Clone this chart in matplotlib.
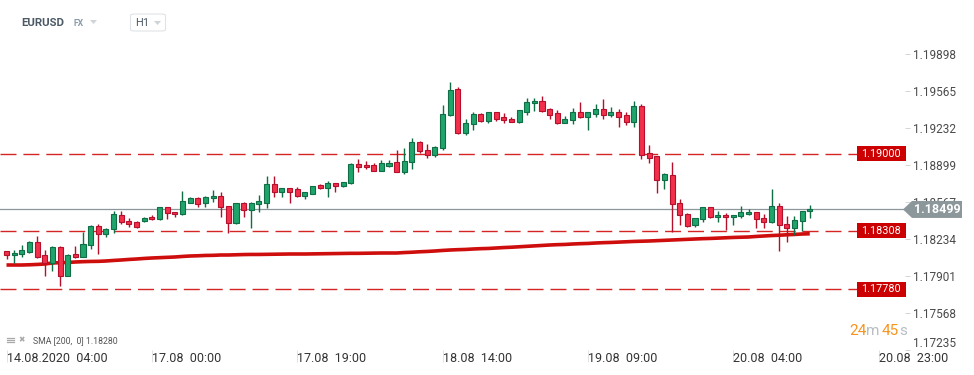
import matplotlib
matplotlib.use("Agg")
import matplotlib.pyplot as plt
import matplotlib.transforms as mtransforms
from matplotlib.patches import Rectangle, Polygon, FancyBboxPatch
import numpy as np

plt.rcParams['font.family'] = ['Roboto', 'DejaVu Sans']

# ---------------- data ----------------
symbol = "EURUSD"
market = "FX"
interval = "H1"
x_tick_pos = [0, 19, 38, 57, 76, 95, 114]
x_tick_labels = ["14.08.2020  04:00", "17.08  00:00", "17.08  19:00", "18.08  14:00",
                 "19.08  09:00", "20.08  04:00", "20.08  23:00"]
y_ticks = [1.17235, 1.17568, 1.17901, 1.18234, 1.18567, 1.18899, 1.19232, 1.19565, 1.19898]
levels = [1.19000, 1.18308, 1.17780]
current_price = 1.18499
sma_label = "SMA [200,  0] 1.18280"
countdown = ["24", "m", "45", "s"]

opens = [1.18122, 1.18086, 1.18095, 1.18116, 1.18206, 1.18086, 1.18017, 1.18158, 1.17903, 1.18095,
         1.18074, 1.18176, 1.18347, 1.18275, 1.18320, 1.18449, 1.18395, 1.18383, 1.18398, 1.18428,
         1.18410, 1.18518, 1.18476, 1.18455, 1.18560, 1.18599, 1.18554, 1.18599, 1.18620, 1.18527,
         1.18374, 1.18554, 1.18494, 1.18551, 1.18560, 1.18728, 1.18656, 1.18689, 1.18680, 1.18623,
         1.18641, 1.18716, 1.18689, 1.18734, 1.18713, 1.18734, 1.18905, 1.18896, 1.18896, 1.18848,
         1.18893, 1.18923, 1.18839, 1.18923, 1.19106, 1.19031, 1.18992, 1.19055, 1.19352, 1.19580,
         1.19190, 1.19265, 1.19355, 1.19298, 1.19373, 1.19328, 1.19310, 1.19283, 1.19379, 1.19454,
         1.19472, 1.19400, 1.19364, 1.19280, 1.19301, 1.19373, 1.19334, 1.19361, 1.19400, 1.19352,
         1.19373, 1.19346, 1.19289, 1.19427, 1.19004, 1.18977, 1.18761, 1.18806, 1.18554, 1.18455,
         1.18356, 1.18410, 1.18518, 1.18428, 1.18446, 1.18428, 1.18437, 1.18455, 1.18473, 1.18419,
         1.18383, 1.18527, 1.18365, 1.18329, 1.18392, 1.18482]
highs = [1.18125, 1.18131, 1.18176, 1.18215, 1.18260, 1.18134, 1.18167, 1.18167, 1.18095, 1.18170,
         1.18299, 1.18356, 1.18368, 1.18332, 1.18488, 1.18488, 1.18419, 1.18391, 1.18428, 1.18449,
         1.18525, 1.18525, 1.18480, 1.18665, 1.18607, 1.18607, 1.18620, 1.18674, 1.18656, 1.18534,
         1.18561, 1.18563, 1.18563, 1.18629, 1.18800, 1.18800, 1.18696, 1.18696, 1.18701, 1.18660,
         1.18714, 1.18728, 1.18755, 1.18741, 1.18750, 1.18913, 1.18949, 1.18935, 1.18914, 1.18944,
         1.18944, 1.19034, 1.19049, 1.19139, 1.19115, 1.19088, 1.19070, 1.19439, 1.19643, 1.19598,
         1.19310, 1.19373, 1.19364, 1.19380, 1.19380, 1.19364, 1.19328, 1.19398, 1.19499, 1.19499,
         1.19520, 1.19408, 1.19391, 1.19337, 1.19409, 1.19463, 1.19380, 1.19445, 1.19490, 1.19418,
         1.19400, 1.19373, 1.19472, 1.19445, 1.19079, 1.18984, 1.18824, 1.18926, 1.18590, 1.18464,
         1.18426, 1.18525, 1.18525, 1.18482, 1.18464, 1.18453, 1.18527, 1.18500, 1.18480, 1.18455,
         1.18683, 1.18554, 1.18437, 1.18437, 1.18489, 1.18536]
lows = [1.18050, 1.18020, 1.18074, 1.18110, 1.18065, 1.17900, 1.17948, 1.17813, 1.17896, 1.18065,
        1.18071, 1.18143, 1.18101, 1.18248, 1.18290, 1.18368, 1.18344, 1.18335, 1.18386, 1.18404,
        1.18404, 1.18410, 1.18428, 1.18449, 1.18554, 1.18524, 1.18518, 1.18569, 1.18434, 1.18284,
        1.18365, 1.18428, 1.18335, 1.18479, 1.18515, 1.18614, 1.18614, 1.18560, 1.18615, 1.18596,
        1.18634, 1.18683, 1.18614, 1.18659, 1.18705, 1.18728, 1.18832, 1.18860, 1.18841, 1.18841,
        1.18884, 1.18832, 1.18821, 1.18860, 1.19004, 1.18965, 1.18974, 1.19034, 1.19343, 1.19181,
        1.19172, 1.19214, 1.19289, 1.19280, 1.19299, 1.19280, 1.19282, 1.19277, 1.19352, 1.19388,
        1.19379, 1.19316, 1.19271, 1.19273, 1.19271, 1.19326, 1.19217, 1.19334, 1.19316, 1.19328,
        1.19244, 1.19262, 1.19244, 1.18957, 1.18914, 1.18644, 1.18680, 1.18299, 1.18362, 1.18341,
        1.18344, 1.18383, 1.18422, 1.18383, 1.18314, 1.18356, 1.18419, 1.18449, 1.18329, 1.18329,
        1.18374, 1.18122, 1.18209, 1.18272, 1.18302, 1.18419]
closes = [1.18086, 1.18107, 1.18131, 1.18206, 1.18074, 1.18017, 1.18158, 1.17903, 1.18086, 1.18074,
          1.18188, 1.18347, 1.18275, 1.18320, 1.18455, 1.18383, 1.18371, 1.18344, 1.18419, 1.18410,
          1.18518, 1.18464, 1.18455, 1.18572, 1.18599, 1.18551, 1.18608, 1.18620, 1.18518, 1.18374,
          1.18554, 1.18494, 1.18554, 1.18572, 1.18728, 1.18656, 1.18689, 1.18656, 1.18623, 1.18656,
          1.18707, 1.18689, 1.18734, 1.18710, 1.18743, 1.18905, 1.18884, 1.18878, 1.18848, 1.18914,
          1.18914, 1.18839, 1.18935, 1.19106, 1.19022, 1.18992, 1.19058, 1.19355, 1.19571, 1.19190,
          1.19274, 1.19355, 1.19298, 1.19373, 1.19316, 1.19301, 1.19289, 1.19391, 1.19463, 1.19472,
          1.19388, 1.19352, 1.19280, 1.19310, 1.19373, 1.19334, 1.19373, 1.19400, 1.19352, 1.19373,
          1.19334, 1.19289, 1.19427, 1.18992, 1.18965, 1.18761, 1.18815, 1.18545, 1.18446, 1.18347,
          1.18419, 1.18518, 1.18428, 1.18449, 1.18428, 1.18446, 1.18473, 1.18473, 1.18410, 1.18383,
          1.18527, 1.18356, 1.18329, 1.18401, 1.18482, 1.18499]
sma200 = [1.17999, 1.17999, 1.17999, 1.18001, 1.18004, 1.18008, 1.18017, 1.18020, 1.18022, 1.18026,
          1.18029, 1.18031, 1.18032, 1.18035, 1.18040, 1.18044, 1.18049, 1.18053, 1.18058, 1.18062,
          1.18065, 1.18068, 1.18071, 1.18076, 1.18080, 1.18082, 1.18085, 1.18086, 1.18089, 1.18089,
          1.18091, 1.18093, 1.18094, 1.18094, 1.18095, 1.18096, 1.18097, 1.18098, 1.18098, 1.18098,
          1.18099, 1.18100, 1.18101, 1.18102, 1.18103, 1.18104, 1.18104, 1.18105, 1.18106, 1.18107,
          1.18107, 1.18107, 1.18111, 1.18114, 1.18118, 1.18121, 1.18125, 1.18130, 1.18134, 1.18137,
          1.18139, 1.18143, 1.18146, 1.18148, 1.18152, 1.18156, 1.18159, 1.18163, 1.18167, 1.18171,
          1.18175, 1.18179, 1.18182, 1.18184, 1.18188, 1.18191, 1.18193, 1.18197, 1.18200, 1.18202,
          1.18205, 1.18208, 1.18211, 1.18213, 1.18215, 1.18218, 1.18221, 1.18224, 1.18227, 1.18230,
          1.18233, 1.18236, 1.18238, 1.18241, 1.18244, 1.18247, 1.18249, 1.18251, 1.18256, 1.18260,
          1.18264, 1.18267, 1.18271, 1.18274, 1.18278, 1.18280]

# ---------------- figure ----------------
W, H = 974, 375
fig = plt.figure(figsize=(W / 100, H / 100), dpi=100)
fig.patch.set_facecolor('white')
ax = fig.add_axes([0, 25 / H, 905 / W, 350 / H])
ax.set_facecolor('white')
for s in ax.spines.values():
    s.set_visible(False)

ax.set_xlim(-0.85, 117.45)
ax.set_ylim(1.17234, 1.20384)

idx = np.arange(len(opens))
o = np.array(opens); c = np.array(closes); h = np.array(highs); l = np.array(lows)
up = c >= o
fill = np.where(up, '#1fa46b', '#f2304b')
edge = np.where(up, '#0f6e45', '#b50f2b')

# SMA line (beneath candles)
ax.plot(idx, sma200, color='#cc0000', lw=2.6, solid_capstyle='butt', zorder=2, alpha=0.95)

# reference levels
for v in levels:
    ax.plot([-0.85, 111.2], [v, v], color='#d42424', lw=1.0, dashes=(11.5, 5), zorder=1.5)

# current price line
ax.axhline(current_price, color='#8b979b', lw=0.9, zorder=1.6)

# candles
ax.vlines(idx, l, h, colors=edge, lw=1.0, zorder=3)
body_bot = np.minimum(o, c)
body_h = np.maximum(np.abs(c - o), 0.00003)
ax.bar(idx, body_h, bottom=body_bot, width=0.66, color=fill, edgecolor=edge, lw=0.8, zorder=4)

# axes ticks
ax.yaxis.tick_right()
ax.set_yticks(y_ticks)
ax.set_yticklabels([f"{v:.5f}" for v in y_ticks])
ax.tick_params(axis='y', length=3.6, width=0.7, color='#d5d5d5', pad=2.2,
               labelsize=8.5, labelcolor='#4a4a4a')
ytl = ax.get_yticklabels()
ytl[0].set_va('bottom')

ax.set_xticks(x_tick_pos)
ax.set_xticklabels(x_tick_labels, ha='left')
ax.tick_params(axis='x', length=8.6, width=0.7, color='#e2e2e2', pad=-7.0,
               labelsize=9, labelcolor='#333333')

# level boxes
bt = mtransforms.blended_transform_factory(fig.transFigure, ax.transData)
px = 0.00009  # price per pixel
for v in levels:
    ax.add_patch(Rectangle((857 / W, v - 7.5 * px), 49 / W, 15 * px, transform=bt,
                           facecolor='#cc0000', edgecolor='none', clip_on=False, zorder=6))
    ax.text(881 / W, v, f"{v:.5f}", transform=bt, color='white', fontsize=7.8,
            ha='center', va='center', zorder=7, clip_on=False)

# current price tag
tag = Polygon([(903 / W, current_price), (912 / W, current_price + 8.5 * px),
               (962 / W, current_price + 8.5 * px), (962 / W, current_price - 8.5 * px),
               (912 / W, current_price - 8.5 * px)], closed=True, transform=bt,
              facecolor='#8b979b', edgecolor='none', clip_on=False, zorder=6)
ax.add_patch(tag)
ax.text(937 / W, current_price, f"{current_price:.5f}", transform=bt, color='white',
        fontsize=9, fontweight='bold', ha='center', va='center', zorder=7, clip_on=False)

# header
def fy(ypx):
    return 1 - ypx / H

fig.text(21 / W, fy(23), symbol, fontsize=8.2, fontweight='bold', color='#4d5a66',
         ha='left', va='center')
fig.text(73 / W, fy(24), market, fontsize=6.2, fontweight='bold', color='#8b9baa',
         ha='left', va='center')
fig.add_artist(Polygon([(90 / W, fy(20)), (97 / W, fy(20)), (93.5 / W, fy(24))],
                       closed=True, transform=fig.transFigure, facecolor='#cfd4d8',
                       edgecolor='none'))
fig.add_artist(FancyBboxPatch((130.5 / W, fy(31)), 35 / W, 17 / H,
                              boxstyle='round,pad=0,rounding_size=0.004',
                              transform=fig.transFigure, facecolor='white',
                              edgecolor='#dfe3e6', lw=0.8))
fig.text(135 / W, fy(23.5), interval, fontsize=8, color='#4d5a66', ha='left', va='center')
fig.add_artist(Polygon([(154 / W, fy(21)), (161 / W, fy(21)), (157.5 / W, fy(25))],
                       closed=True, transform=fig.transFigure, facecolor='#cfd4d8',
                       edgecolor='none'))

# SMA legend (bottom-left)
for yy in (337.5, 339.5, 341.5):
    fig.add_artist(plt.Line2D([7 / W, 14 / W], [fy(yy), fy(yy)], transform=fig.transFigure,
                              color='#a8a8a8', lw=0.9))
fig.text(18.5 / W, fy(339.5), "\u2716", fontsize=5.5, color='#a8a8a8', ha='left', va='center',
         family='DejaVu Sans')
fig.text(33 / W, fy(340.5), sma_label, fontsize=6.3, color='#555555', ha='left', va='center')

# countdown
cd_x = [849, 866, 882, 899]
cd_col = ['#f7941d', '#b8bec4', '#f7941d', '#b8bec4']
for txt, xx, cc in zip(countdown, cd_x, cd_col):
    fig.text(xx / W, fy(331), txt, fontsize=11, color=cc, ha='left', va='center')

fig.savefig('out.png', dpi=100, facecolor='white')
